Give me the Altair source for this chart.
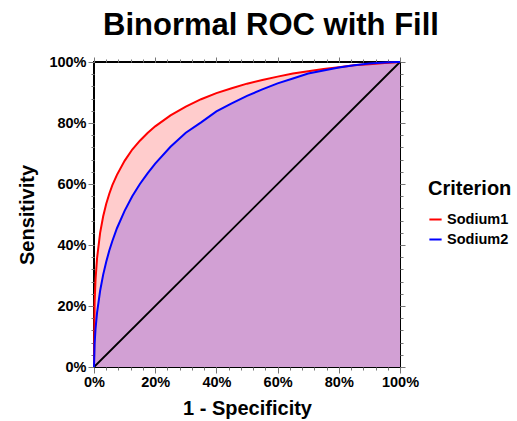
import altair as alt
import pandas as pd

# False positive rate (1 - specificity) sample points
fpr = [0.0, 0.002, 0.005, 0.01, 0.02, 0.03, 0.04, 0.05, 0.06, 0.075, 0.1, 0.125,
       0.15, 0.175, 0.2, 0.25, 0.3, 0.35, 0.4, 0.45, 0.5, 0.55, 0.6, 0.65, 0.7,
       0.75, 0.8, 0.85, 0.9, 0.95, 0.99, 1.0]
# Sensitivity for each criterion
sodium1 = [0.0, 0.212, 0.287, 0.357, 0.440, 0.494, 0.535, 0.568, 0.596, 0.630, 0.676, 0.713,
           0.742, 0.767, 0.789, 0.825, 0.854, 0.878, 0.898, 0.914, 0.929, 0.941, 0.952, 0.962, 0.970,
           0.977, 0.983, 0.989, 0.993, 0.997, 0.9995, 1.0]
sodium2 = [0.0, 0.077, 0.125, 0.178, 0.250, 0.303, 0.345, 0.382, 0.413, 0.455, 0.512, 0.560,
           0.600, 0.635, 0.667, 0.722, 0.768, 0.802, 0.838, 0.864, 0.889, 0.910, 0.930, 0.946, 0.962,
           0.972, 0.982, 0.989, 0.995, 0.998, 0.9997, 1.0]
criteria = ["Sodium1", "Sodium2"]
line_colors = ["#ff0000", "#0000ff"]
diag = [0.0, 1.0]

major = [0, 0.2, 0.4, 0.6, 0.8, 1.0]
minor = [i / 25 for i in range(26)]

df = pd.DataFrame({
    "fpr": fpr * 2,
    "sens": sodium1 + sodium2,
    "Criterion": [criteria[0]] * len(fpr) + [criteria[1]] * len(fpr),
})
d1 = df[df.Criterion == "Sodium1"]
d2 = df[df.Criterion == "Sodium2"]
ddiag = pd.DataFrame({"fpr": diag, "sens": diag})

scale = alt.Scale(domain=[0, 1], nice=False, zero=False)
lab_font = "Liberation Sans"

def ax(orient, values, tick, labels=False, title=None, title_pad=0):
    kw = dict(orient=orient, values=values, tickSize=tick, tickColor="#777777",
              tickWidth=1, grid=False, labels=labels, domain=False)
    if labels:
        kw.update(format=".0%", labelFont=lab_font, labelFontSize=14.5,
                  labelFontWeight="bold", labelColor="#000000", labelPadding=2,
                  labelFlush=False, labelOverlap=False)
    if title:
        kw.update(title=title, titleFont=lab_font, titleFontSize=20,
                  titleFontWeight="bold", titleColor="#000000",
                  titlePadding=title_pad)
    else:
        kw.update(title=None)
    return alt.Axis(**kw)

fill1 = alt.Chart(d1).mark_area(color="#ffcccc", opacity=1).encode(
    x=alt.X("fpr:Q", scale=scale,
            axis=ax("bottom", major, 6, True, "1 - Specificity", 10)),
    y=alt.Y("sens:Q", scale=scale,
            axis=ax("left", major, 6, True, "Sensitivity", 11)),
)
fill2 = alt.Chart(d2).mark_area(color="#d2a0d4", opacity=1).encode(
    x=alt.X("fpr:Q", scale=scale, axis=ax("bottom", minor, 3)),
    y=alt.Y("sens:Q", scale=scale, axis=ax("left", minor, 3)),
)
color = alt.Color("Criterion:N", scale=alt.Scale(domain=criteria, range=line_colors),
                  legend=alt.Legend(title="Criterion", symbolType="stroke",
                                    symbolStrokeWidth=2, symbolSize=150,
                                    titleFont=lab_font, titleFontSize=20,
                                    titleFontWeight="bold", labelFont=lab_font,
                                    labelFontSize=14.5, labelFontWeight="bold",
                                    titlePadding=13, rowPadding=5,
                                    orient="none", legendX=334, legendY=117))
line1 = alt.Chart(d1).mark_line(strokeWidth=2).encode(
    x=alt.X("fpr:Q", scale=scale, axis=ax("top", major, 5)),
    y=alt.Y("sens:Q", scale=scale, axis=ax("right", major, 5)),
    color=color,
)
line2 = alt.Chart(d2).mark_line(strokeWidth=2).encode(
    x=alt.X("fpr:Q", scale=scale, axis=ax("top", minor, 3)),
    y=alt.Y("sens:Q", scale=scale, axis=ax("right", minor, 3)),
    color=color,
)
diagonal = alt.Chart(ddiag).mark_line(color="#000000", strokeWidth=1.8).encode(
    x=alt.X("fpr:Q", scale=scale, axis=None),
    y=alt.Y("sens:Q", scale=scale, axis=None),
)

chart = alt.layer(fill1, fill2, diagonal, line1, line2).resolve_axis(
    x="independent", y="independent"
).properties(
    width=306, height=305,
    autosize=alt.AutoSizeParams(type="none"),
    padding={"left": 94, "top": 62, "right": 117, "bottom": 54},
    title=alt.TitleParams("Binormal ROC with Fill", font=lab_font, fontSize=31,
                          fontWeight="bold", anchor="middle", offset=12, dx=24),
).configure_view(stroke="#000000", strokeWidth=2)

chart.save("out.html", embed_options={"renderer": "svg", "actions": False})
